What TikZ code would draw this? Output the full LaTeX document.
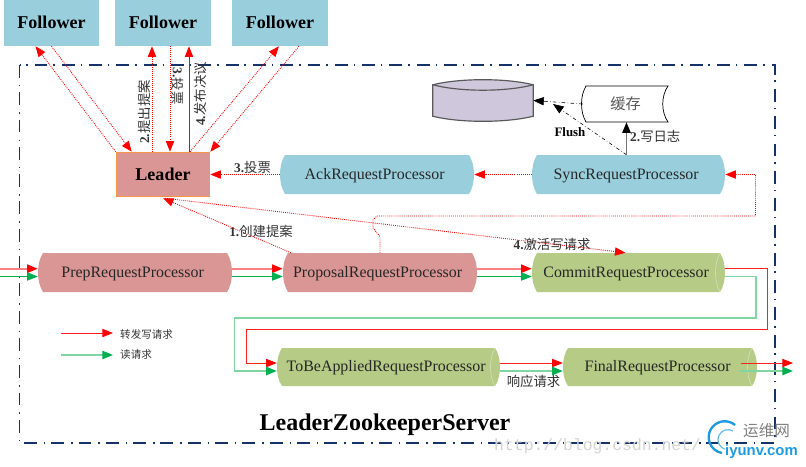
\documentclass[tikz,border=0pt]{standalone}
\usepackage{fontspec}
\setmainfont{Liberation Serif}
\setmonofont{Liberation Mono}
\newfontfamily\cjk{Noto Sans CJK SC}
\newfontfamily\logofont{Liberation Sans}
\usetikzlibrary{arrows.meta,calc}
\definecolor{flwblue}{HTML}{99CFDD}
\definecolor{ldrred}{HTML}{D99694}
\definecolor{ldredge}{HTML}{F79646}
\definecolor{cmtgreen}{HTML}{B5CB86}
\definecolor{diskfill}{HTML}{CFC7DC}
\definecolor{frameblue}{HTML}{17326B}
\definecolor{wrpink}{HTML}{FF8080}
\definecolor{wrred}{HTML}{FF2020}
\definecolor{rdgreen}{HTML}{00B050}
\definecolor{rdlight}{HTML}{7FD6A0}
\definecolor{logoblue}{HTML}{1E9BE0}
\tikzset{
  box/.style={minimum width=2.87cm,minimum height=1.38cm,inner sep=0pt,text height=10pt,text depth=0pt,font=\fontsize{15.4}{15}\selectfont\bfseries,fill=flwblue},
  procname/.style={inner sep=0pt,text height=8.5pt,text depth=0pt,font=\fontsize{13.6}{13.6}\selectfont,text=black!85},
  cnlabel/.style={inner sep=0pt,font=\fontsize{11.4}{12}\selectfont,text=black!80},
  vote/.style={red,densely dotted,line width=0.75pt,-{Triangle[length=9pt,width=7pt]}},
  wrthick/.style={wrpink,line width=1.7pt,-{Triangle[length=9pt,width=7pt,color=red]}},
  wrthin/.style={wrred,line width=0.65pt,-{Triangle[length=9pt,width=7pt,color=red]}},
  rdthick/.style={rdlight,line width=1.5pt,-{Triangle[length=9pt,width=7pt,color=rdgreen]}},
  rdthin/.style={rdgreen,line width=0.8pt,-{Triangle[length=9pt,width=7pt,color=rdgreen]}},
  flushline/.style={black,line width=0.5pt,dash dot,-{Triangle[length=9pt,width=7pt]}}
}
% processor box: name, centre x, centre y, width, height, colour, text
\newcommand{\procbox}[7]{
  \fill [#6] (#2-#4/2+5,#3+#5/2) -- (#2+#4/2-5,#3+#5/2)
    .. controls (#2+#4/2+1.67,#3+#5/4) and (#2+#4/2+1.67,#3-#5/4) .. (#2+#4/2-5,#3-#5/2)
    -- (#2-#4/2+5,#3-#5/2)
    .. controls (#2-#4/2-1.67,#3-#5/4) and (#2-#4/2-1.67,#3+#5/4) .. cycle;
  \node [procname,minimum width=#4*0.03cm,minimum height=#5*0.03cm] (#1) at (#2,#3) {#7\hspace*{4pt}};
}
% light inner edge on the green boxes
\newcommand{\procedge}[3]{
  \draw [white!45!cmtgreen,line width=0.5pt] (#1-5,#2+#3/2) .. controls (#1-11,#2+#3/4) and (#1-11,#2-#3/4) .. (#1-5,#2-#3/2);
}
\begin{document}
\begin{tikzpicture}[x=0.03cm,y=0.03cm]
\useasboundingbox (0,0) rectangle (806,-466);
% frame
\draw [frameblue,line width=1.4pt,dash pattern=on 11pt off 6pt on 1.3pt off 5pt] (19.5,-65) rectangle (775,-442.7);
\node [inner sep=0pt,anchor=base,font=\fontsize{20.5}{21}\selectfont\bfseries] (title) at (385,-430) {LeaderZookeeperServer};
% followers and leader
\node [box] (flwa) at (51.5,-23) {Follower};
\node [box] (flwb) at (163,-23) {Follower};
\node [box] (flwc) at (280,-23) {Follower};
\node [box,fill=ldrred,draw=ldredge,line width=1pt,minimum width=2.8cm,minimum height=1.33cm] (ldr) at (163,-174.5) {Leader};
% processors
\procbox{ack}{377}{-174.5}{194}{39}{flwblue}{AckRequestProcessor}
\procbox{sync}{628.5}{-174.5}{193}{39}{flwblue}{SyncRequestProcessor}
\procbox{prep}{135}{-272.5}{194}{39}{ldrred}{PrepRequestProcessor}
\procbox{prop}{380}{-272.5}{194}{39}{ldrred}{ProposalRequestProcessor}
\procbox{commit}{628.5}{-272.5}{193}{39}{cmtgreen}{CommitRequestProcessor}
\procbox{toapply}{388.5}{-367}{223}{38}{cmtgreen}{ToBeAppliedRequestProcessor}
\procbox{final}{660}{-367}{194}{38}{cmtgreen}{FinalRequestProcessor}
\procedge{725}{-272.5}{39}
\procedge{500}{-367}{38}
\procedge{757}{-367}{38}
% log store and cache
\node [minimum width=3cm,minimum height=0.93cm,inner sep=0pt] (disk) at (483,-100.5) {};
\filldraw [fill=diskfill,draw=black!65,line width=1pt] (disk.north west) .. controls (460,-78) and (506,-78) .. (disk.north east) -- (disk.south east) .. controls (506,-123) and (460,-123) .. (disk.south west) -- cycle;
\draw [draw=black!65,line width=1pt] (disk.north west) .. controls (460,-92) and (506,-92) .. (disk.north east);
\coordinate (cachenw) at (586,-86);
\coordinate (cachesw) at (586,-122);
\draw [black,line width=0.6pt,fill=white] (668,-86) -- (cachenw) .. controls (580,-96) and (580,-112) .. (cachesw) -- (668,-122) .. controls (661,-112) and (661,-96) .. cycle;
\node [minimum width=2.55cm,minimum height=1.08cm,inner sep=0pt,font=\cjk\fontsize{13}{13}\selectfont,text=black!65] (cache) at (625.5,-104) {缓存};
\draw [flushline] (cache.west) -- (disk.east);
\draw [flushline] ($(sync.north)+(-2,0)$) -- (553,-104);
\draw [black!55,line width=1.4pt,-{Triangle[length=9pt,width=7pt,color=black]}] ($(sync.north)+(-2,0)$) -- ($(cache.south)+(1,0)$);
\node [inner sep=0pt,font=\fontsize{11}{11}\selectfont\bfseries] (flushtxt) at (570,-132) {Flush};
\node [cnlabel,anchor=west] (logtxt) at (630,-136) {\textbf{2.}\cjk 写日志};
% votes with the followers
\draw [vote] (ldr.north west) -- ($(flwa.south)+(-16,0)$);
\draw [vote] ($(flwa.south)+(0,0)$) -- ($(ldr.north west)+(16,0)$);
\draw [vote] ($(ldr.north)+(-11,0)$) -- ($(flwb.south)+(-11,0)$);
\draw [vote] ($(flwb.south)+(7,0)$) -- ($(ldr.north)+(7,0)$);
\draw [red,line width=0.7pt,-{Triangle[length=9pt,width=7pt]}] ($(ldr.north)+(26,0)$) -- ($(flwb.south)+(26,0)$);
\draw [vote] ($(ldr.north)+(27,0)$) -- ($(flwc.south)+(-1,0)$);
\draw [vote] ($(flwc.south)+(19,0)$) -- (ldr.north east);
\node [cnlabel,rotate=90] (propose) at (144,-112) {\textbf{2.}\cjk 提出提案};
\node [cnlabel,rotate=-90] (ackf) at (178,-86) {\textbf{3.}\cjk 投票};
\node [cnlabel,rotate=90] (decide) at (200,-94) {\textbf{4.}\cjk 发布决议};
% request chain votes
\draw [vote] (ack.west) -- (ldr.east);
\node [cnlabel] (votetxt) at (252.5,-167) {\textbf{3.}\cjk 投票};
\draw [vote] (sync.west) -- (ack.east);
\draw [vote] (prop.north) -- ($(prop.north)+(0,16)$) -- (373,-228) -- (373,-220) -- (377,-216) -| (755.5,-174.5) -- (sync.east);
\draw [vote] ($(prop.north)+(-89,0)$) -- ($(ldr.south)+(0,-1)$);
\draw [vote] ($(ldr.south)+(2,-1)$) -- ($(commit.north)+(-3,0)$);
\node [cnlabel] (propt) at (261,-231) {\textbf{1.}\cjk 创建提案};
\node [cnlabel] (actv) at (552,-244) {\textbf{4.}\cjk 激活写请求};
% request flow
\coordinate (inwr) at (0,-268.7);
\coordinate (inrd) at (0,-276.5);
\draw [wrthick] (inwr) -- (prep.west |- inwr);
\draw [rdthin] (inrd) -- (prep.west |- inrd);
\draw [wrthick] (prep.east |- inwr) -- (prop.west |- inwr);
\draw [rdthin] (prep.east |- inrd) -- (prop.west |- inrd);
\draw [wrthick] (prop.east |- inwr) -- (commit.west |- inwr);
\draw [rdthin] (prop.east |- inrd) -- (commit.west |- inrd);
\coordinate (apwr) at (0,-363);
\coordinate (aprd) at (0,-371);
\draw [wrthin] (commit.east |- inwr) -- (767,-268.7) -- (767,-329) -- (246,-329) -- (246,-363) -- (toapply.west |- apwr);
\draw [rdthick] (commit.east |- inrd) -- (756,-276.5) -- (756,-318) -- (234.5,-318) -- (234.5,-371) -- (toapply.west |- aprd);
\draw [wrthin] (toapply.east |- apwr) -- (final.west |- apwr);
\draw [rdthick] (toapply.east |- aprd) -- (final.west |- aprd);
\node [cnlabel] (resp) at (533.5,-381) {\cjk 响应请求};
\coordinate (outwr) at (793,-363);
\coordinate (outrd) at (793,-371);
\draw [wrthin] ($(final.east |- apwr)+(-16,0)$) -- (outwr);
\draw [rdthick] ($(final.east |- aprd)+(-17,0)$) -- (outrd);
% legend
\coordinate (lgwa) at (61,-333);
\coordinate (lgwb) at (113,-333);
\coordinate (lgra) at (61,-355);
\coordinate (lgrb) at (113,-355);
\draw [wrthin] (lgwa) -- (lgwb);
\draw [rdthick] (lgra) -- (lgrb);
\node [cnlabel,anchor=west,font=\cjk\fontsize{9}{9}\selectfont] (lgwt) at (120,-334) {转发写请求};
\node [cnlabel,anchor=west,font=\cjk\fontsize{9}{9}\selectfont] (lgrt) at (120,-355) {读请求};
% watermark
\node [inner sep=0pt,anchor=west,text=black!17,font=\ttfamily\fontsize{14}{14}\selectfont] (wmark) at (494,-446) {http://blog.csdn.net/};
\draw [logoblue,line width=2pt] (735,-425) arc (50:260:16);
\draw [logoblue!70,line width=1pt] (733,-431) arc (60:250:10);
\node [inner sep=0pt,anchor=west,text=black!50,font=\cjk\fontsize{13.3}{13}\selectfont] (logocn) at (743,-431) {运维网};
\node [inner sep=0pt,anchor=base west,text=logoblue,font=\logofont\bfseries\fontsize{12.7}{13}\selectfont] (logoen) at (725,-455) {iyunv.com};
\end{tikzpicture}
\end{document}
